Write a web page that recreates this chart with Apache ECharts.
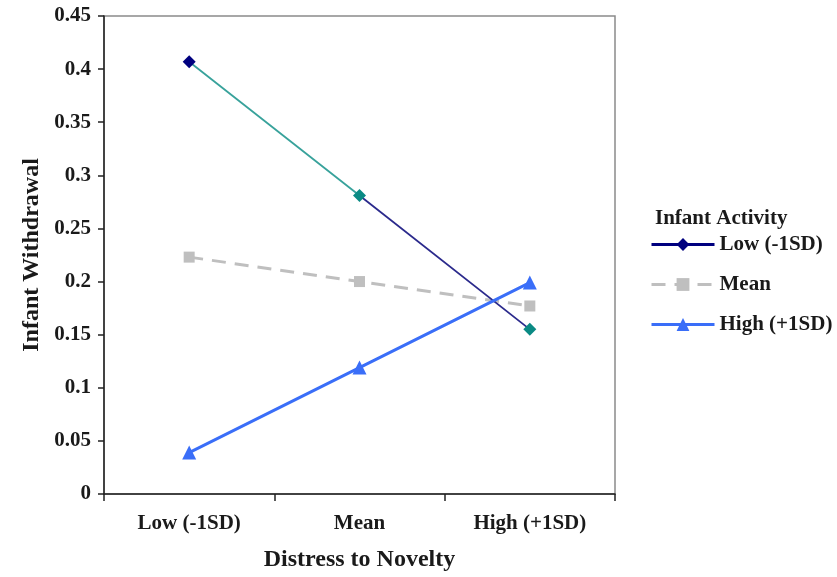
<!DOCTYPE html>
<html>
<head>
<meta charset="utf-8">
<script src="https://cdn.jsdelivr.net/npm/echarts@6/dist/echarts.min.js"></script>
<style>html,body{margin:0;padding:0;background:#fff}#c{width:837px;height:577px}</style>
</head>
<body>
<div id="c"></div>
<script>
var categories = ['Low (-1SD)', 'Mean', 'High (+1SD)'];
var seriesNames = ['Low (-1SD)', 'Mean', 'High (+1SD)'];
var lowValues = [0.407, 0.281, 0.155];
var meanValues = [0.223, 0.200, 0.177];
var highValues = [0.039, 0.119, 0.199];
var yTicks = [0, 0.05, 0.1, 0.15, 0.2, 0.25, 0.3, 0.35, 0.4, 0.45];

var NAVY = '#00007f', TEAL = '#0a8a84', TEAL_LINE = '#38a29b', NAVY_LINE = '#2b2a8c';
var GRAY = '#bfbfbf', BLUE = '#3a6ef8';
var lowMarkerColors = [NAVY, TEAL, TEAL];
var FONT = 'Liberation Serif';
var TXT = '#1a1a1a';

var chart = echarts.init(document.getElementById('c'));
chart.setOption({
  animation: false,
  backgroundColor: '#fff',
  title: {
    text: 'Infant Activity', left: 650, top: 203,
    textStyle: { fontFamily: FONT, fontWeight: 'bold', fontSize: 21, color: TXT }
  },
  grid: { left: 104, right: 222, top: 16, bottom: 81, show: true, borderColor: '#8a8a8a', borderWidth: 1.5, backgroundColor: '#fff' },
  legend: {
    orient: 'vertical', left: 645, top: 229, itemWidth: 63, itemHeight: 16, itemGap: 19,
    textStyle: { fontFamily: FONT, fontWeight: 'bold', fontSize: 21, color: TXT },
    data: [
      { name: seriesNames[0], lineStyle: { color: NAVY, width: 3 }, itemStyle: { color: NAVY } },
      { name: seriesNames[1], lineStyle: { width: 3 } },
      { name: seriesNames[2], lineStyle: { width: 3 } }
    ]
  },
  xAxis: {
    type: 'category', data: categories, boundaryGap: true,
    name: 'Distress to Novelty', nameLocation: 'middle', nameGap: 54,
    nameTextStyle: { fontFamily: FONT, fontWeight: 'bold', fontSize: 24, color: TXT },
    axisLine: { lineStyle: { color: '#222', width: 1.5 } },
    axisTick: { show: true, length: 7, lineStyle: { color: '#222', width: 1.5 } },
    axisLabel: { fontFamily: FONT, fontWeight: 'bold', fontSize: 21, color: TXT, margin: 19 },
    splitLine: { show: false }
  },
  yAxis: {
    type: 'value', min: yTicks[0], max: yTicks[yTicks.length - 1], interval: 0.05,
    name: 'Infant Withdrawal', nameLocation: 'middle', nameGap: 59,
    nameTextStyle: { fontFamily: FONT, fontWeight: 'bold', fontSize: 24, color: TXT },
    axisLine: { show: true, lineStyle: { color: '#222', width: 1.5 } },
    axisTick: { show: true, length: 6, lineStyle: { color: '#222', width: 1.5 } },
    axisLabel: { fontFamily: FONT, fontWeight: 'bold', fontSize: 21, color: TXT, margin: 13 },
    splitLine: { show: false }
  },
  series: [
    {
      name: seriesNames[0], type: 'line', symbol: 'diamond', symbolSize: 13,
      itemStyle: { color: NAVY },
      lineStyle: {
        width: 1.8,
        color: new echarts.graphic.LinearGradient(0, 0, 1, 0, [
          { offset: 0, color: TEAL_LINE }, { offset: 0.5, color: TEAL_LINE },
          { offset: 0.5, color: NAVY_LINE }, { offset: 1, color: NAVY_LINE }
        ])
      },
      data: lowValues.map(function (v, i) { return { value: v, itemStyle: { color: lowMarkerColors[i] } }; }),
      z: 3
    },
    {
      name: seriesNames[1], type: 'line', symbol: 'rect', symbolSize: 11,
      itemStyle: { color: GRAY },
      lineStyle: { width: 3, color: GRAY, type: [14, 9] },
      data: meanValues, z: 2
    },
    {
      name: seriesNames[2], type: 'line', symbol: 'triangle', symbolSize: 14,
      itemStyle: { color: BLUE },
      lineStyle: { width: 3, color: BLUE },
      data: highValues, z: 4
    }
  ]
});
</script>
</body>
</html>
